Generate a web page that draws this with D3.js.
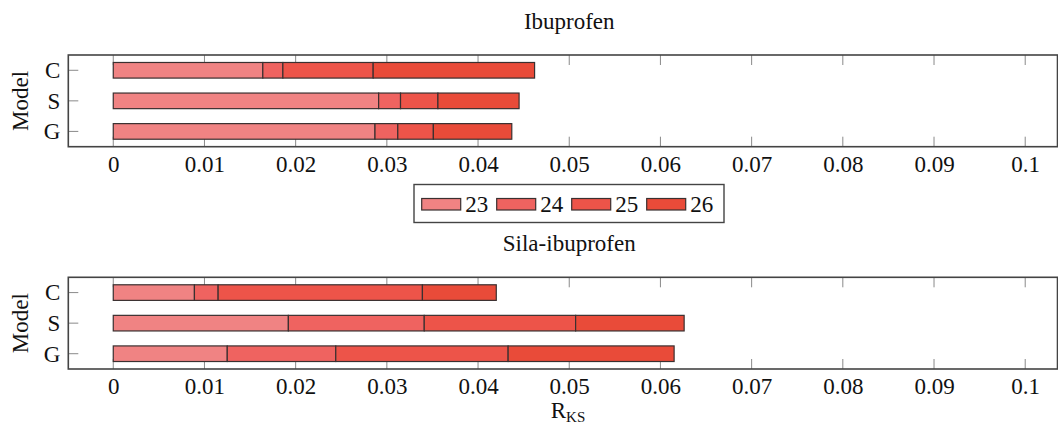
<!DOCTYPE html>
<html>
<head>
<meta charset="utf-8">
<script src="https://cdn.jsdelivr.net/npm/d3@7/dist/d3.min.js"></script>
<style>
  html, body { margin: 0; padding: 0; background: #fff; }
  svg { display: block; }
</style>
</head>
<body>
<svg id="chart" width="1058" height="427"></svg>
<script>
// Models on the vertical axis, top to bottom
const models = ["C", "S", "G"];
// Stacked series (legend entries)
const seriesKeys = ["23", "24", "25", "26"];
const seriesColors = ["#f08383", "#ef6360", "#ed5449", "#e94b39"];

// Ibuprofen: per-series contribution for C, S, G
const ibu23 = [0.0164, 0.0291, 0.0287];
const ibu24 = [0.0022, 0.0024, 0.0025];
const ibu25 = [0.0099, 0.0041, 0.0039];
const ibu26 = [0.0177, 0.0089, 0.0086];

// Sila-ibuprofen: per-series contribution for C, S, G
const sila23 = [0.0089, 0.0192, 0.0125];
const sila24 = [0.0026, 0.0149, 0.0119];
const sila25 = [0.0224, 0.0166, 0.0189];
const sila26 = [0.0081, 0.0119, 0.0182];

// Axis ticks
const xTickValues = [0, 0.01, 0.02, 0.03, 0.04, 0.05, 0.06, 0.07, 0.08, 0.09, 0.1];
const xTickLabels = ["0", "0.01", "0.02", "0.03", "0.04", "0.05", "0.06", "0.07", "0.08", "0.09", "0.1"];

const FONT = "'Liberation Serif', 'Times New Roman', 'DejaVu Serif', serif";

const svg = d3.select("#chart").attr("font-family", FONT);
const left = 68.3, right = 1057.5;
const x = d3.scaleLinear().domain([-0.00493, 0.10354]).range([left, right]);
const barH = 15.6;
const tickLen = 10;

function rows(a, b, c, d) {
  return models.map((m, i) => ({ model: m, "23": a[i], "24": b[i], "25": c[i], "26": d[i] }));
}

function label(sel) {
  return sel.attr("font-family", FONT).attr("font-size", 23).attr("fill", "#111");
}

function panel(top, title, data) {
  const height = 91.7;
  const y = d3.scalePoint().domain(models).range([top, top + height]).padding(0.5);
  const g = svg.append("g");

  // title
  label(g.append("text"))
    .attr("x", (x(0) + x(0.1)) / 2)
    .attr("y", top - 26)
    .attr("text-anchor", "middle")
    .text(title);

  // x ticks, bottom and mirrored at top
  const tickG = g.append("g");
  xTickValues.forEach(v => {
    tickG.append("line")
      .attr("x1", x(v)).attr("x2", x(v))
      .attr("y1", top + height).attr("y2", top + height - tickLen)
      .attr("stroke", "#8a8a8a").attr("stroke-width", 1);
    tickG.append("line")
      .attr("x1", x(v)).attr("x2", x(v))
      .attr("y1", top).attr("y2", top + tickLen)
      .attr("stroke", "#8a8a8a").attr("stroke-width", 1);
  });

  // bottom axis labels through d3 axis
  const ax = d3.axisBottom(x)
    .tickValues(xTickValues)
    .tickFormat((d, i) => xTickLabels[i])
    .tickSize(0)
    .tickPadding(9);
  const axG = g.append("g").attr("transform", `translate(0,${top + height})`).call(ax)
    .attr("font-family", FONT).attr("font-size", 23);
  axG.select(".domain").remove();
  label(axG.selectAll("text"));

  // y ticks and labels
  const ay = d3.axisLeft(y).tickSize(0).tickPadding(8);
  const ayG = g.append("g").attr("transform", `translate(${left},0)`).call(ay)
    .attr("font-family", FONT).attr("font-size", 23);
  ayG.select(".domain").remove();
  label(ayG.selectAll("text"));
  models.forEach(m => {
    g.append("line")
      .attr("x1", left).attr("x2", left + tickLen)
      .attr("y1", y(m)).attr("y2", y(m))
      .attr("stroke", "#8a8a8a").attr("stroke-width", 1);
  });

  // y axis label
  label(g.append("text"))
    .attr("transform", `translate(28,${top + height / 2}) rotate(-90)`)
    .attr("text-anchor", "middle")
    .text("Model");

  // stacked bars
  const stacked = d3.stack().keys(seriesKeys)(data);
  const color = d3.scaleOrdinal().domain(seriesKeys).range(seriesColors);
  stacked.forEach(layer => {
    g.append("g").selectAll("rect")
      .data(layer)
      .join("rect")
      .attr("x", d => x(d[0]))
      .attr("width", d => x(d[1]) - x(d[0]))
      .attr("y", d => y(d.data.model) - barH / 2)
      .attr("height", barH)
      .attr("fill", color(layer.key))
      .attr("stroke", "#3a3030")
      .attr("stroke-width", 1.2);
  });

  // frame
  g.append("rect")
    .attr("x", left).attr("y", top)
    .attr("width", right - left).attr("height", height)
    .attr("fill", "none")
    .attr("stroke", "#444")
    .attr("stroke-width", 1.6);
}

panel(55, "Ibuprofen", rows(ibu23, ibu24, ibu25, ibu26));
panel(277.3, "Sila-ibuprofen", rows(sila23, sila24, sila25, sila26));

// legend
const lg = svg.append("g");
lg.append("rect")
  .attr("x", 414).attr("y", 184.5).attr("width", 310).attr("height", 38)
  .attr("fill", "#fff").attr("stroke", "#444").attr("stroke-width", 1.4);
seriesKeys.forEach((k, i) => {
  const ox = 421.7 + i * 75;
  lg.append("rect")
    .attr("x", ox).attr("y", 198.5).attr("width", 39).attr("height", 11.5)
    .attr("fill", seriesColors[i]).attr("stroke", "#3a3030").attr("stroke-width", 1.2);
  label(lg.append("text"))
    .attr("x", ox + 43.5).attr("y", 212)
    .text(k);
});

// x axis title with subscript
const xt = label(svg.append("text"))
  .attr("x", 568).attr("y", 418)
  .attr("text-anchor", "middle");
xt.append("tspan").text("R");
xt.append("tspan").attr("dy", 4).attr("font-size", 15).text("KS");
</script>
</body>
</html>
